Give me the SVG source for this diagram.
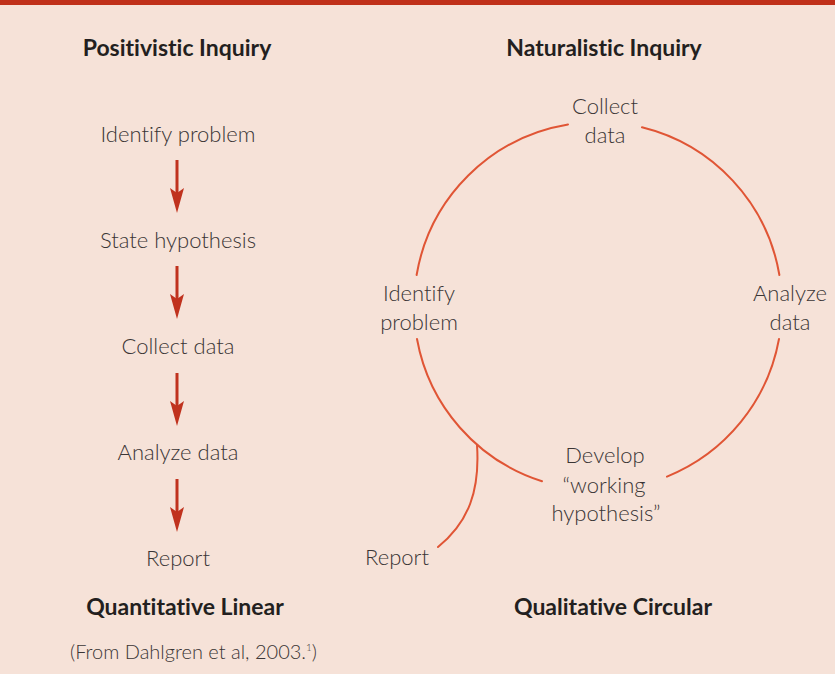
<svg xmlns="http://www.w3.org/2000/svg" width="835" height="674" viewBox="0 0 835 674">
  <defs>
    <style>
      text { font-variant-ligatures: none; }
      .t { font-family: Lato, "Open Sans", "Liberation Sans", sans-serif; font-weight: 300; font-size: 22px; fill: #3a3535; text-anchor: middle; }
      .h { font-family: Lato, "Open Sans", "Liberation Sans", sans-serif; font-weight: 700; font-size: 23px; fill: #231f20; text-anchor: middle; }
      .arc { fill: none; stroke: #E05535; stroke-width: 2; stroke-linecap: round; }
      .shaft { stroke: #C0321E; stroke-width: 3; }
      .head { fill: #C0321E; }
    </style>
  </defs>
  <rect x="0" y="0" width="835" height="674" fill="#F6E2D8"/>
  <rect x="0" y="0" width="835" height="5" fill="#C0301A"/>

  <!-- Headings -->
  <text class="h" x="177" y="56">Positivistic Inquiry</text>
  <text class="h" x="604" y="56">Naturalistic Inquiry</text>
  <text class="h" x="185" y="615">Quantitative Linear</text>
  <text class="h" x="613" y="615">Qualitative Circular</text>

  <!-- Linear column nodes -->
  <g id="lin-identify"><text class="t" x="178" y="142">Identify problem</text></g>
  <g id="lin-state"><text class="t" x="178" y="248">State hypothesis</text></g>
  <g id="lin-collect"><text class="t" x="178" y="354">Collect data</text></g>
  <g id="lin-analyze"><text class="t" x="178" y="460">Analyze data</text></g>
  <g id="lin-report"><text class="t" x="178" y="566">Report</text></g>

  <!-- Circular nodes -->
  <g id="cir-collect"><text class="t" x="605" y="114">Collect</text><text class="t" x="605" y="143">data</text></g>
  <g id="cir-analyze"><text class="t" x="790" y="301">Analyze</text><text class="t" x="790" y="330">data</text></g>
  <g id="cir-develop"><text class="t" x="605" y="463">Develop</text><text class="t" x="604" y="493">“working</text><text class="t" x="606" y="521">hypothesis”</text></g>
  <g id="cir-identify"><text class="t" x="419" y="301">Identify</text><text class="t" x="419" y="330">problem</text></g>
  <g id="cir-report"><text class="t" x="397" y="565">Report</text></g>

  <!-- Connectors -->
  <g id="connectors">
    <g id="arrows">
      <line class="shaft" x1="177" y1="160" x2="177" y2="196"/>
      <polygon class="head" points="170,188 177,213 184,188 177,193"/>
      <line class="shaft" x1="177" y1="266" x2="177" y2="302"/>
      <polygon class="head" points="170,294 177,319 184,294 177,299"/>
      <line class="shaft" x1="177" y1="373" x2="177" y2="409"/>
      <polygon class="head" points="170,401 177,426 184,401 177,406"/>
      <line class="shaft" x1="177" y1="479" x2="177" y2="515"/>
      <polygon class="head" points="170,507 177,532 184,507 177,512"/>
    </g>
    <g id="circle">
      <path class="arc" d="M642,127.3 A184,184 0 0 1 779.4,275"/>
      <path class="arc" d="M779,339 A184,184 0 0 1 667,476.6"/>
      <path class="arc" d="M542,481.3 A184,184 0 0 1 417,339"/>
      <path class="arc" d="M416.6,275 A184,184 0 0 1 568,124.5"/>
      <path class="arc" d="M477,445 C480,490 469,522 438,547"/>
    </g>
  </g>

  <text class="t" style="font-size:20px;text-anchor:start" x="70" y="659">(From Dahlgren et al, 2003.<tspan style="font-size:10px" dy="-8">1</tspan><tspan dy="8">)</tspan></text>
</svg>
